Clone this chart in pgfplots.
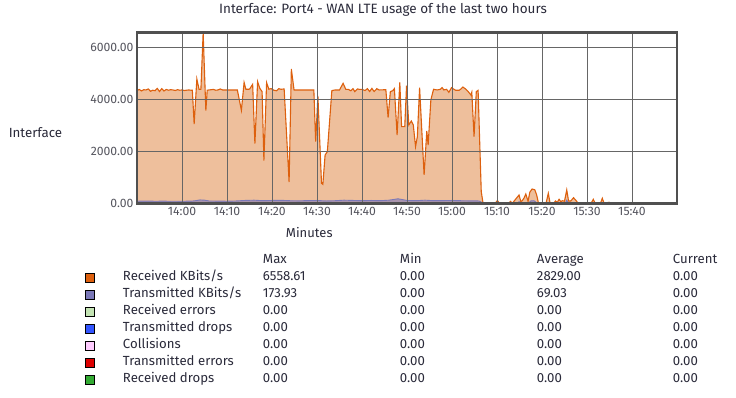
\documentclass[border=0pt]{standalone}
\usepackage{fontspec}
\setmainfont{Fira Sans}
\usepackage{pgfplots}
\pgfplotsset{compat=1.18}
\definecolor{rx}{HTML}{DD600E}
\definecolor{rxfill}{HTML}{EEBF9C}
\definecolor{tx}{HTML}{7B78B8}
\definecolor{rxerr}{HTML}{C4E4B4}
\definecolor{txdrop}{HTML}{3355FF}
\definecolor{coll}{HTML}{FFCCFF}
\definecolor{txerr}{HTML}{DD0000}
\definecolor{rxdrop}{HTML}{33AA33}
\definecolor{frame}{HTML}{505050}
\definecolor{gridc}{HTML}{666666}
\definecolor{txt}{HTML}{2A2A3A}
\definecolor{tick}{HTML}{55555E}
\pgfplotsset{
  sq/.style={legend image code/.code={\draw[fill=#1,draw=black,line width=0.8pt,fill opacity=1,draw opacity=1] (0pt,-4.5pt) rectangle (9pt,4.5pt);}}
}
\begin{document}
\begin{tikzpicture}
\path[use as bounding box] (0,0) rectangle (736pt,-398pt);
\begin{axis}[
  at={(137pt,-203.3pt)}, anchor=south west,
  width=540pt, height=170.5pt, scale only axis,
  xmin=0, xmax=120, ymin=0, ymax=6558.61,
  xtick={10,20,...,110},
  xticklabels={14:00,14:10,14:20,14:30,14:40,14:50,15:00,15:10,15:20,15:30,15:40},
  ytick={0,2000,4000,6000},
  /pgf/number format/assume math mode=true,
  yticklabel style={/pgf/number format/.cd, fixed, fixed zerofill, precision=2, 1000 sep={}},
  tick label style={font=\fontsize{12.2}{14}\selectfont, text=tick},
  major tick length=0pt,
  grid=major,
  major grid style={color=gridc, line width=0.75pt},
  axis on top,
  axis line style={color=frame, line width=2.8pt},
  title={Interface: Port4 - WAN LTE usage of the last two hours},
  title style={font=\fontsize{13.5}{16}\selectfont, text=txt, at={(axis description cs:0.4556,1.0985)}, anchor=center},
  xlabel={Minutes},
  xlabel style={font=\fontsize{13}{15}\selectfont, text=txt, at={(axis description cs:0.319,-0.174)}, anchor=center},
  ylabel={Interface},
  ylabel style={font=\fontsize{13.3}{15}\selectfont, text=txt, rotate=-90, at={(axis description cs:-0.188,0.412)}, anchor=center},
  legend cell align=left,
  legend style={at={(axis description cs:-0.0963,-0.287)}, anchor=north west, draw=none, fill=none,
    inner sep=0pt, row sep=0pt, column sep=28pt,
    nodes={inner sep=0pt, text height=11pt, text depth=6pt, font=\fontsize{13.2}{15}\selectfont, text=txt}},
  legend entries={
    {\makebox[140pt][l]{}\makebox[137pt][l]{Max}\makebox[137pt][l]{Min}\makebox[136pt][l]{Average}Current},
    {\makebox[140pt][l]{Received KBits/s}\makebox[137pt][l]{6558.61}\makebox[137pt][l]{0.00}\makebox[136pt][l]{2829.00}0.00},
    {\makebox[140pt][l]{Transmitted KBits/s}\makebox[137pt][l]{173.93}\makebox[137pt][l]{0.00}\makebox[136pt][l]{69.03}0.00},
    {\makebox[140pt][l]{Received errors}\makebox[137pt][l]{0.00}\makebox[137pt][l]{0.00}\makebox[136pt][l]{0.00}0.00},
    {\makebox[140pt][l]{Transmitted drops}\makebox[137pt][l]{0.00}\makebox[137pt][l]{0.00}\makebox[136pt][l]{0.00}0.00},
    {\makebox[140pt][l]{Collisions}\makebox[137pt][l]{0.00}\makebox[137pt][l]{0.00}\makebox[136pt][l]{0.00}0.00},
    {\makebox[140pt][l]{Transmitted errors}\makebox[137pt][l]{0.00}\makebox[137pt][l]{0.00}\makebox[136pt][l]{0.00}0.00},
    {\makebox[140pt][l]{Received drops}\makebox[137pt][l]{0.00}\makebox[137pt][l]{0.00}\makebox[136pt][l]{0.00}0.00}
  },
]
\addlegendimage{empty legend}
% Received KBits/s
\addplot[draw=rx, line width=1.1pt, fill=rxfill, sq=rx] coordinates {
(0,4340) (0.5,4380) (1,4320) (1.5,4370) (2,4360) (2.5,4400) (3,4310) (3.5,4350) (4,4330) (4.5,4420)
(5,4300) (5.5,4410) (6,4320) (6.5,4380) (7,4350) (7.5,4370) (8,4360) (8.5,4340) (9,4370) (9.5,4350)
(10,4360) (10.5,4340) (11,4350) (11.5,4360) (12,4350) (12.3,4350) (12.7,3050) (13.3,4780) (13.8,4380)
(14.2,4380) (14.7,6558.61) (15.3,3565) (15.6,4350) (16,4360) (17,4380) (17.5,4350) (18,4360) (18.5,4400)
(19,4360) (20,4360) (21,4360) (22.3,4360) (23.2,3577) (23.8,4650) (24.2,4385) (25,4390) (25.7,4577)
(26.2,2296) (26.8,4680) (27.3,4423) (27.8,4296) (28.2,1642) (28.8,4642) (29.3,4390) (29.8,4412)
(30.4,4350) (31,4330) (31.5,4410) (32,4385) (32.7,4400) (33.8,820) (34.3,5165) (34.9,4360) (36,4360)
(37,4360) (38,4360) (39.3,4360) (39.7,2373) (40.2,4127) (41,770) (41.3,730) (41.8,1858) (42.3,1988)
(43.3,4334) (44,4360) (45,4360) (45.8,4615) (46.4,4385) (47,4380) (47.5,4330) (48,4410) (48.4,4296)
(49,4400) (49.5,4380) (50,4380) (50.7,4340) (51.2,4410) (51.7,4300) (52.2,4420) (52.7,4300) (53.3,4410)
(53.8,4360) (55.3,4370) (55.8,3296) (56.3,4296) (56.8,4330) (57.2,4412) (57.8,2628) (58.4,4654)
(58.8,2950) (59.5,2950) (59.9,4525) (60.4,3012) (60.96,3167) (61.4,3010) (61.9,2180) (62.3,2565)
(62.8,4450) (63.8,1090) (64.4,2782) (64.7,2243) (65.3,3974) (65.9,4385) (66.7,4360) (67.4,4385)
(67.8,4450) (68.2,4360) (68.8,4385) (69.3,4270) (69.9,4450) (70.3,4400) (70.8,4350) (71.6,4350)
(72,4400) (72.4,4474) (73,4400) (73.6,4296) (74.2,4166) (74.4,4270) (74.9,2565) (75.4,4296) (75.8,4346)
(76.5,450) (76.9,0) (78,0) (79.6,0) (80.1,110) (80.5,0) (82.6,0) (83,70) (83.4,0) (84.1,150) (84.9,320)
(85.3,60) (85.6,100) (86,200) (86.4,358) (86.9,80) (87.3,430) (87.8,550) (88.4,520) (88.8,330) (89.2,20)
(89.6,0) (90.9,0) (91.4,385) (91.8,0) (92.6,0) (93,90) (93.4,40) (93.8,154) (94.2,60) (94.5,100) (95,80)
(95.5,512) (95.9,90) (96.4,90) (97,215) (97.5,120) (97.9,30) (98.5,0) (100.9,0) (101.4,154) (101.8,0)
(103,0) (103.4,192) (103.8,0) (104.9,40) (105.3,0) (120,0)
} \closedcycle;
% Transmitted KBits/s
\addplot[draw=tx, line width=0.9pt, fill=tx, fill opacity=0.6, sq=tx] coordinates {
(0,80) (2,85) (4,80) (6,82) (8,78) (10,80) (12,82) (13,100) (14,130) (15,120) (16,90) (18,85) (20,80)
(22,90) (24,110) (26,120) (28,100) (30,110) (32,115) (34,100) (36,95) (38,105) (40,110) (42,90) (44,100)
(46,120) (48,110) (50,100) (52,110) (54,100) (56,120) (58,173.93) (60,110) (62,100) (64,120) (66,100)
(68,105) (70,110) (72,100) (74,95) (76,90) (77,0) (84.5,0) (84.9,60) (85.5,0) (87,0) (87.5,90) (88.2,100)
(89,0) (95.2,0) (95.5,120) (95.9,0) (120,0)
} \closedcycle;
\addplot[draw=rxerr, line width=0.8pt, sq=rxerr] coordinates {(0,0) (120,0)};
\addplot[draw=txdrop, line width=0.8pt, sq=txdrop] coordinates {(0,0) (120,0)};
\addplot[draw=coll, line width=0.8pt, sq=coll] coordinates {(0,0) (120,0)};
\addplot[draw=txerr, line width=0.8pt, sq=txerr] coordinates {(0,0) (120,0)};
\addplot[draw=rxdrop, line width=1.2pt, sq=rxdrop] coordinates {(0,0) (120,0)};
\end{axis}
\end{tikzpicture}
\end{document}
